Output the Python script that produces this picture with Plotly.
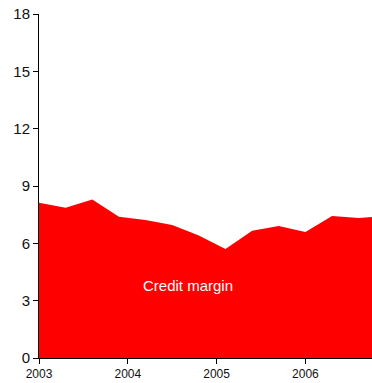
import plotly.graph_objects as go

years = [2003.0, 2003.3, 2003.6, 2003.9, 2004.2, 2004.5, 2004.8, 2005.1,
         2005.4, 2005.7, 2006.0, 2006.3, 2006.6, 2006.75]
credit_margin = [8.13, 7.86, 8.30, 7.39, 7.22, 6.96, 6.41, 5.70,
                 6.66, 6.91, 6.59, 7.43, 7.33, 7.38]
x_ticks = [2003, 2004, 2005, 2006]
y_ticks = [0, 3, 6, 9, 12, 15, 18]

fig = go.Figure()
fig.add_trace(
    go.Scatter(
        x=years,
        y=credit_margin,
        mode="lines",
        fill="tozeroy",
        fillcolor="#ff0000",
        line=dict(width=0, color="#ff0000"),
        showlegend=False,
    )
)

fig.add_annotation(
    x=2004.68,
    y=3.77,
    text="Credit margin",
    showarrow=False,
    font=dict(color="white", size=15),
)

fig.update_layout(
    width=372,
    height=383,
    margin=dict(l=39, r=0, t=14, b=25),
    paper_bgcolor="white",
    plot_bgcolor="white",
    font=dict(family="Liberation Sans, Arial, sans-serif", color="#111111"),
    xaxis=dict(
        range=[2003, 2006.75],
        tickvals=x_ticks,
        ticktext=[str(t) for t in x_ticks],
        showgrid=False,
        zeroline=False,
        showline=True,
        linecolor="black",
        linewidth=1,
        ticks="outside",
        ticklen=5,
        tickcolor="black",
        tickfont=dict(size=12),
    ),
    yaxis=dict(
        range=[0, 18],
        tickvals=y_ticks,
        showgrid=False,
        zeroline=False,
        showline=True,
        linecolor="black",
        linewidth=1,
        ticks="outside",
        ticklen=5,
        tickcolor="black",
        tickfont=dict(size=15),
    ),
)

# drop the default page margin so the figure fills the window
fig.write_html(
    "out.html",
    config={"displayModeBar": False},
    post_script="document.body.style.margin='0px';",
)
